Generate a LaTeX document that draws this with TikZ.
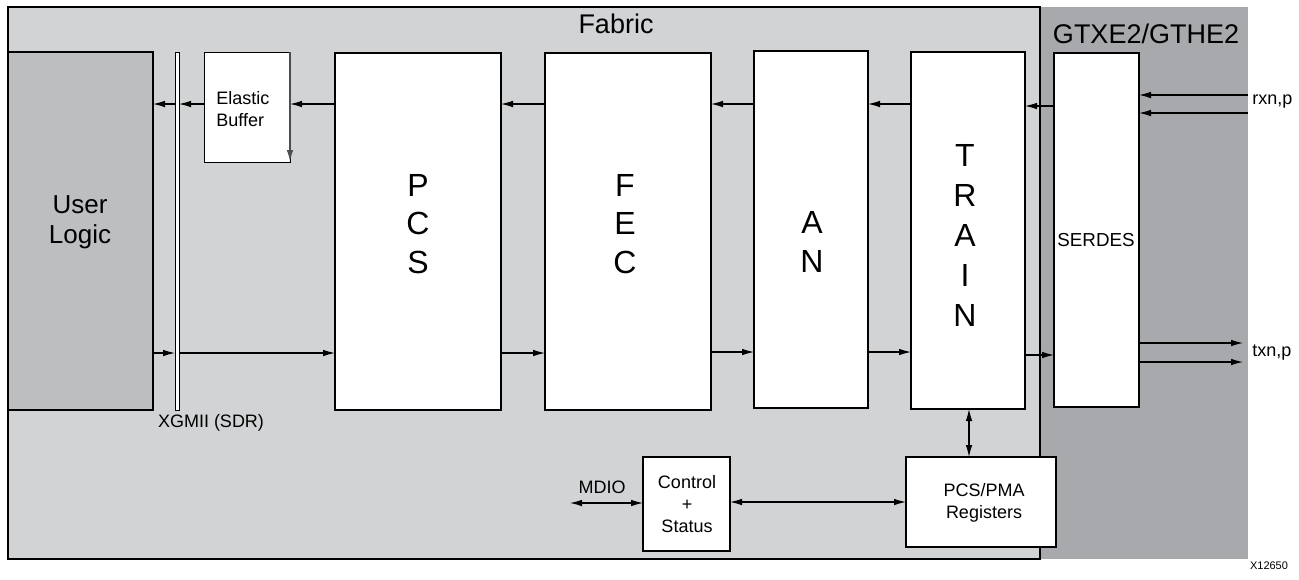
\documentclass[tikz,border=0pt]{standalone}
\usepackage{fontspec}
\setmainfont{Liberation Sans}
\usetikzlibrary{arrows.meta,fit}
\definecolor{fabricc}{HTML}{D1D3D4}
\definecolor{gtxc}{HTML}{A7A9AC}
\definecolor{userc}{HTML}{BCBEC0}
\definecolor{edgec}{HTML}{4D4D4F}
\begin{document}
\begin{tikzpicture}[x=0.5pt,y=-0.5pt,
  box/.style={draw=black,line width=0.95pt,fill=white,inner sep=0pt,outer sep=0pt},
  arr/.style={line width=0.55pt,-{Latex[length=6pt,width=3.3pt]}},
  darr/.style={line width=0.55pt,{Latex[length=6pt,width=3.3pt]}-{Latex[length=6pt,width=3.3pt]}},
  big/.style={font=\fontsize{16}{19.25}\selectfont, align=center, inner sep=0pt},
  mid/.style={font=\fontsize{13.5}{16}\selectfont, inner sep=0pt},
  small/.style={font=\fontsize{9}{11}\selectfont, align=center, inner sep=0pt},
]
\useasboundingbox[fill=white] (0,0) rectangle (1299,579);
% regions
\fill[gtxc] (1040,7) rectangle (1248,559);
\node[box, fill=fabricc, line width=1.1pt, fit={(8,7)(1040,559)}] (fabric) {};
\node[mid] (fabriclbl) at (616,24) {Fabric};
\node[mid] (gtxlbl) at (1146,34) {GTXE2/GTHE2};
% boxes
\node[box, fill=userc, fit={(8,52)(153,410)}] (ul) {};
\node[font=\fontsize{13}{15}\selectfont, align=center, inner sep=0pt] (ultxt) at (80,222) {User\\Logic};
\node[box, line width=0.5pt, fit={(175,52)(179,410)}] (xg) {};
\node[small] (xglbl) at (211,423) {XGMII (SDR)};
\node[box, line width=0.5pt, fit={(204,52)(290,162)}] (eb) {};
\node[small, align=left, anchor=west] (ebtxt) at (216,109) {Elastic\\Buffer};
\node[box, fit={(335,53)(501,410)}] (pcs) {};
\node[big] (pcstxt) at (418,224) {P\\C\\S};
\node[box, fit={(545,53)(711,410)}] (fec) {};
\node[big] (fectxt) at (625,224) {F\\E\\C};
\node[box, fit={(754,51)(868,408)}] (an) {};
\node[big] (antxt) at (812,242) {A\\N};
\node[box, fit={(911,52)(1025,409)}] (train) {};
\node[big, font=\fontsize{16}{20}\selectfont] (traintxt) at (965,235) {T\\R\\A\\I\\N};
\node[box, fit={(1054,53)(1139,407)}] (serdes) {};
\node[small, font=\fontsize{9.4}{11}\selectfont] (serdestxt) at (1096,240) {SERDES};
\node[box, fit={(643,457)(730,551)}] (ctl) {};
\node[small] (ctltxt) at (687,504) {Control\\+\\Status};
\node[box, fit={(906,457)(1056,547)}] (reg) {};
\node[small] (regtxt) at (984,503) {PCS/PMA\\Registers};
% coordinates for free ends
\coordinate (mdio) at (570,503);
\coordinate (rx1) at (1248,95);
\coordinate (rx2) at (1248,113);
\coordinate (tx1) at (1243,343);
\coordinate (tx2) at (1243,362);
\node[small, anchor=west] (rxlbl) at (1252,102) {rxn,p};
\node[small, anchor=west] (txlbl) at (1252,353) {txn,p};
\node[small] (mdiolbl) at (602,487) {MDIO};
\node[font=\fontsize{5.5}{6}\selectfont, inner sep=0pt] (fig) at (1269,566) {X12650};
% receive path (top)
\draw[arr] (rx1) -- (serdes.east |- rx1);
\draw[arr] (rx2) -- (serdes.east |- rx2);
\draw[arr] (serdes.west |- 0,106) -- (train.east |- 0,106);
\draw[arr] (train.west |- 0,104) -- (an.east |- 0,104);
\draw[arr] (an.west |- 0,104) -- (fec.east |- 0,104);
\draw[arr] (fec.west |- 0,104) -- (pcs.east |- 0,104);
\draw[arr] (pcs.west |- 0,104) -- (eb.east |- 0,104);
\draw[arr] (eb.west |- 0,104) -- (xg.east |- 0,104);
\draw[arr] (xg.west |- 0,104) -- (ul.east |- 0,104);
\draw[line width=0.9pt, draw=edgec, -{Latex[length=6pt,width=3.3pt]}] (eb.north east) -- (eb.south east);
% transmit path (bottom)
\draw[arr] (ul.east |- 0,353) -- (xg.west |- 0,353);
\draw[arr] (xg.east |- 0,353) -- (pcs.west |- 0,353);
\draw[arr] (pcs.east |- 0,353) -- (fec.west |- 0,353);
\draw[arr] (fec.east |- 0,352) -- (an.west |- 0,352);
\draw[arr] (an.east |- 0,352) -- (train.west |- 0,352);
\draw[arr] (train.east |- 0,355) -- (serdes.west |- 0,355);
\draw[arr] (serdes.east |- tx1) -- (tx1);
\draw[arr] (serdes.east |- tx2) -- (tx2);
% management
\draw[darr] (train.south -| 969,0) -- (reg.north -| 969,0);
\draw[darr] (ctl.east |- 0,502) -- (reg.west |- 0,502);
\draw[darr] (mdio) -- (ctl.west |- mdio);
\end{tikzpicture}
\end{document}
